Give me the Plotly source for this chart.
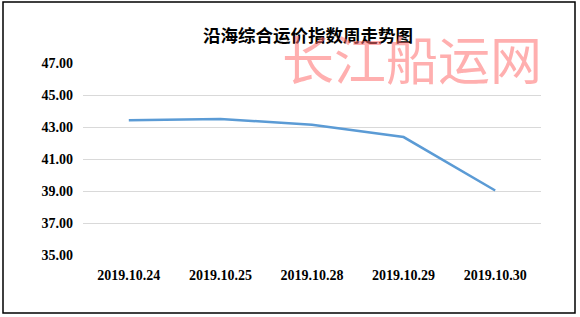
import plotly.graph_objects as go

categories = ["2019.10.24", "2019.10.25", "2019.10.28", "2019.10.29", "2019.10.30"]
values = [43.42, 43.50, 43.14, 42.37, 39.03]
y_ticks = [35, 37, 39, 41, 43, 45, 47]
y_tick_labels = ["35.00", "37.00", "39.00", "41.00", "43.00", "45.00", "47.00"]
title = "沿海综合运价指数周走势图"
watermark = "长江船运网"

W, H = 580, 317
L, R, T, B = 83, 39, 63, 62
pw, ph = W - L - R, H - T - B

def px(x):
    return (x - L) / pw

def py(y):
    return (H - B - y) / ph

fig = go.Figure()
fig.add_trace(go.Scatter(
    x=categories, y=values, mode="lines",
    line=dict(color="#5b9bd5", width=2.5),
    hoverinfo="x+y",
))

tick_font = dict(family="Liberation Serif", size=14, color="black", weight="bold")

fig.update_layout(
    width=W, height=H,
    margin=dict(l=L, r=R, t=T, b=B),
    paper_bgcolor="white", plot_bgcolor="white",
    showlegend=False,
    title=dict(text="<b>" + title + "</b>", x=px(308), xref="paper", xanchor="center",
               y=1 - 36 / H, yanchor="middle",
               font=dict(family="Noto Sans CJK SC", size=17.5, color="black")),
    xaxis=dict(type="category", range=[-0.5, len(categories) - 0.5],
               showgrid=False, showline=False, zeroline=False,
               ticks="", tickfont=tick_font, ticklabelstandoff=10,
               tickvals=categories, ticktext=categories),
    yaxis=dict(range=[35, 47], tickvals=y_ticks, ticktext=y_tick_labels,
               showgrid=True, gridcolor="#d9d9d9", gridwidth=1, zeroline=False,
               showline=False, ticks="", tickfont=tick_font,
               ticklabelstandoff=9),
)

fig.add_shape(type="rect", xref="paper", yref="paper",
              x0=px(3), x1=px(575), y0=py(313), y1=py(2),
              line=dict(color="black", width=1.5), fillcolor="rgba(0,0,0,0)", layer="above")

fig.add_annotation(text=watermark, xref="paper", yref="paper",
                   x=px(412), y=py(58), xanchor="center", yanchor="middle",
                   showarrow=False,
                   font=dict(family="Noto Sans CJK SC", size=52, color="rgba(255,110,110,0.55)"))

fig.write_html("out.html")
